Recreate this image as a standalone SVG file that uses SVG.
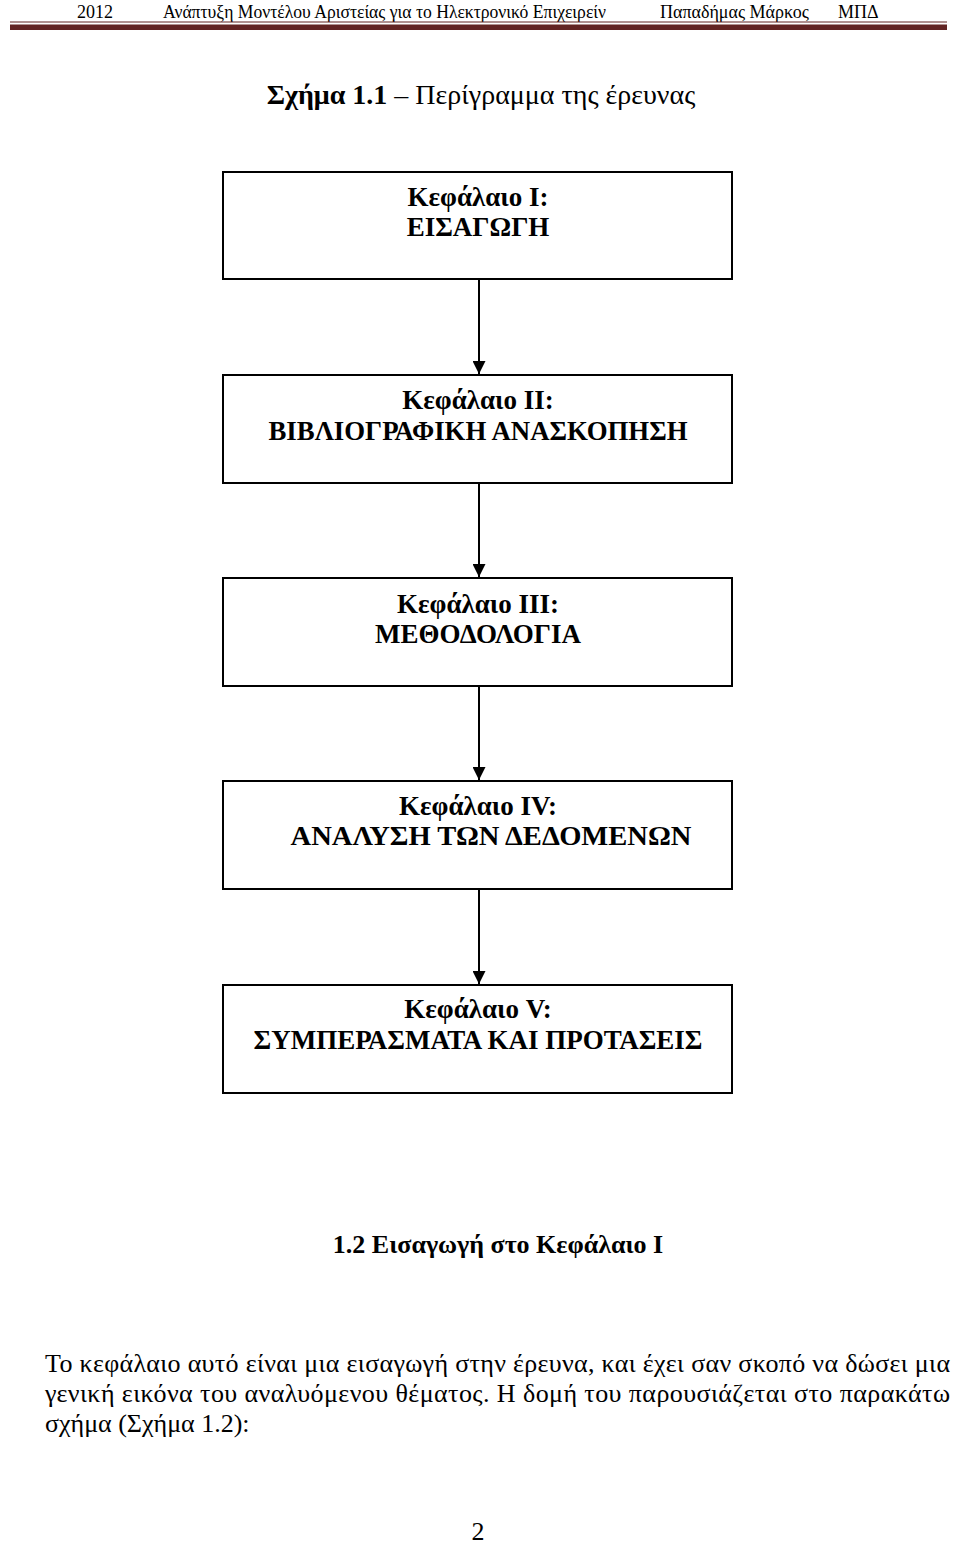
<svg xmlns="http://www.w3.org/2000/svg" width="960" height="1544" viewBox="0 0 960 1544">
<defs>
<style>
text{font-family:"Liberation Serif","Times New Roman",serif;fill:#000}
.hd{font-size:18px}
.bx{fill:#fff;stroke:#000;stroke-width:2}
.bt{font-size:27px;font-weight:bold;text-anchor:middle}
.para{font-size:26px}
.conn{stroke:#000;stroke-width:2;fill:none}
</style>
<marker id="ah" viewBox="0 0 10 10" refX="10" refY="5" markerWidth="13" markerHeight="13" markerUnits="userSpaceOnUse" orient="auto">
<path d="M0,0 L10,5 L0,10 z" fill="#000"/>
</marker>
</defs>
<rect width="960" height="1544" fill="#fff"/>
<g id="header">
<text class="hd" x="77" y="18">2012</text>
<text class="hd" x="163" y="18" textLength="443" lengthAdjust="spacingAndGlyphs">Ανάπτυξη Μοντέλου Αριστείας για το Ηλεκτρονικό Επιχειρείν</text>
<text class="hd" x="660" y="18">Παπαδήμας  Μάρκος</text>
<text class="hd" x="838" y="18">ΜΠΔ</text>
<rect x="10" y="21.5" width="937" height="1" fill="#622423"/>
<rect x="10" y="24.5" width="937" height="5.5" fill="#622423"/>
</g>
<text x="481" y="104" font-size="28" text-anchor="middle"><tspan font-weight="bold">Σχήμα 1.1</tspan> – Περίγραμμα της έρευνας</text>
<g id="connectors">
<line class="conn" x1="479" y1="280" x2="479" y2="374" marker-end="url(#ah)"/>
<line class="conn" x1="479" y1="484" x2="479" y2="577" marker-end="url(#ah)"/>
<line class="conn" x1="479" y1="687" x2="479" y2="780" marker-end="url(#ah)"/>
<line class="conn" x1="479" y1="890" x2="479" y2="984" marker-end="url(#ah)"/>
</g>
<g id="node1">
<rect class="bx" x="223" y="172" width="509" height="107"/>
<text class="bt" x="478" y="206">Κεφάλαιο Ι:</text>
<text class="bt" x="478" y="236">ΕΙΣΑΓΩΓΗ</text>
</g>
<g id="node2">
<rect class="bx" x="223" y="375" width="509" height="108"/>
<text class="bt" x="478" y="409">Κεφάλαιο ΙΙ:</text>
<text class="bt" x="478" y="440" textLength="419" lengthAdjust="spacingAndGlyphs">ΒΙΒΛΙΟΓΡΑΦΙΚΗ ΑΝΑΣΚΟΠΗΣΗ</text>
</g>
<g id="node3">
<rect class="bx" x="223" y="578" width="509" height="108"/>
<text class="bt" x="478" y="613">Κεφάλαιο ΙΙΙ:</text>
<text class="bt" x="478" y="643">ΜΕΘΟΔΟΛΟΓΙΑ</text>
</g>
<g id="node4">
<rect class="bx" x="223" y="781" width="509" height="108"/>
<text class="bt" x="478" y="815">Κεφάλαιο ΙV:</text>
<text class="bt" x="491" y="845" textLength="401" lengthAdjust="spacingAndGlyphs">ΑΝΑΛΥΣΗ ΤΩΝ ΔΕΔΟΜΕΝΩΝ</text>
</g>
<g id="node5">
<rect class="bx" x="223" y="985" width="509" height="108"/>
<text class="bt" x="478" y="1018">Κεφάλαιο V:</text>
<text class="bt" x="478" y="1049" textLength="449" lengthAdjust="spacingAndGlyphs">ΣΥΜΠΕΡΑΣΜΑΤΑ ΚΑΙ ΠΡΟΤΑΣΕΙΣ</text>
</g>
<text x="498" y="1253" font-size="26" font-weight="bold" text-anchor="middle">1.2 Εισαγωγή στο Κεφάλαιο Ι</text>
<text class="para" x="45" y="1372" textLength="905" lengthAdjust="spacing">Το κεφάλαιο αυτό είναι μια εισαγωγή στην έρευνα, και έχει σαν σκοπό να δώσει μια</text>
<text class="para" x="45" y="1402" textLength="905" lengthAdjust="spacing">γενική εικόνα του αναλυόμενου θέματος. Η δομή του παρουσιάζεται στο παρακάτω</text>
<text class="para" x="45" y="1432">σχήμα (Σχήμα 1.2):</text>
<text x="478" y="1540" font-size="26" text-anchor="middle">2</text>
</svg>
